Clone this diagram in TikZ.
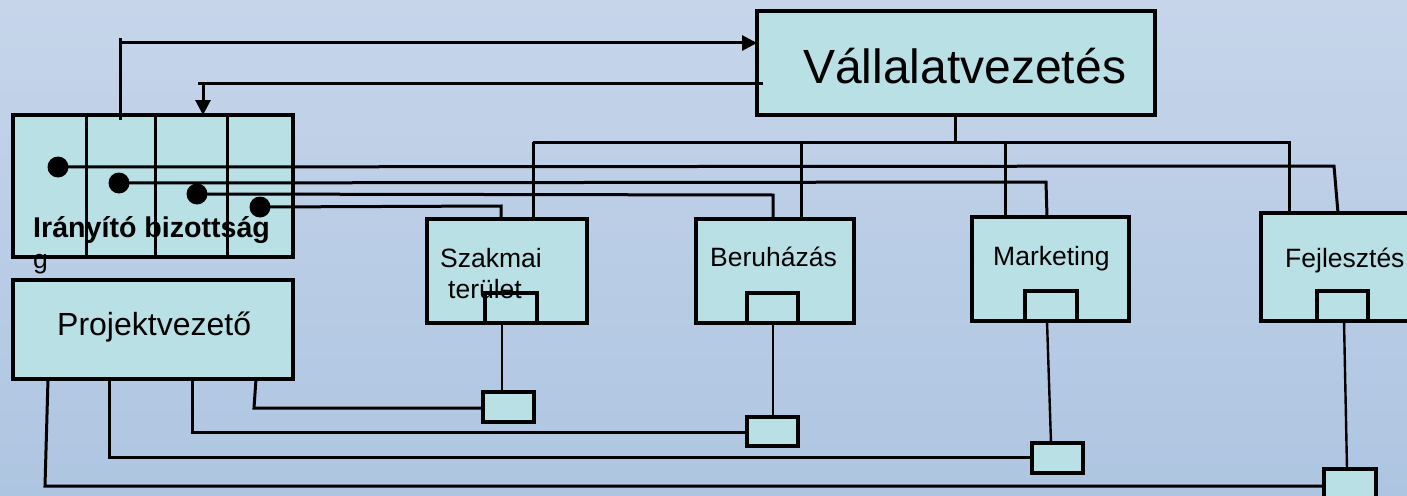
\documentclass[tikz,border=0pt]{standalone}
\usepackage{fontspec}
\setmainfont{Liberation Sans}
\usetikzlibrary{arrows.meta}
\definecolor{bgtop}{RGB}{198,213,234}
\definecolor{bgbot}{RGB}{174,197,225}
\definecolor{boxfill}{RGB}{185,224,228}
\begin{document}
\begin{tikzpicture}[x=1pt,y=-1pt,
  box/.style={draw=black,line width=3.2pt,fill=boxfill,inner sep=0pt,outer sep=0pt,anchor=north west},
  conn/.style={line width=3pt},
  thinconn/.style={line width=2.4pt},
  arr/.style={-{Triangle[length=15pt,width=15pt]}},
  lbl/.style={inner sep=0pt,anchor=base west,font=\fontsize{26.5}{30}\selectfont},
  dot/.style={circle,fill=black,inner sep=0pt,minimum size=21pt}]
\shade[top color=bgtop,bottom color=bgbot] (0,0) rectangle (1407,495);
\useasboundingbox (0,0) rectangle (1407,495);
% boxes
\node[box,minimum width=398pt,minimum height=104pt] (vv) at (757,11) {};
\node[box,minimum width=280pt,minimum height=142pt] (ib) at (13,115) {};
\node[box,minimum width=280pt,minimum height=99pt] (pv) at (13,280) {};
\node[box,minimum width=160pt,minimum height=104pt] (sz) at (427,219) {};
\node[box,minimum width=158pt,minimum height=104pt] (be) at (696,219) {};
\node[box,minimum width=157pt,minimum height=104pt] (mk) at (972,217) {};
\node[box,minimum width=158pt,minimum height=108pt] (fj) at (1261,213) {};
\node[box,minimum width=52pt,minimum height=30pt] (szi) at (485,293) {};
\node[box,minimum width=51pt,minimum height=30pt] (bei) at (747,293) {};
\node[box,minimum width=52pt,minimum height=30pt] (mki) at (1025,291) {};
\node[box,minimum width=51pt,minimum height=30pt] (fji) at (1317,291) {};
\node[box,minimum width=51pt,minimum height=30pt] (s2) at (483,392) {};
\node[box,minimum width=51pt,minimum height=29pt] (b2) at (747,417) {};
\node[box,minimum width=51pt,minimum height=30pt] (m2) at (1032,443) {};
\node[box,minimum width=52pt,minimum height=30pt] (f2) at (1324,469) {};
% committee dividers
\foreach \xx in {86,155,227}{\draw[line width=3pt] (ib.north -| \xx,0) -- (ib.south -| \xx,0);}
% arrows between committee and management
\draw[conn] (120,120) -- (120,38);
\draw[conn,arr] (120,43) -- (vv.west |- 0,43);
\draw[conn] (763,83) -- (198,83);
\draw[conn,arr] (203,83) -- (ib.north -| 203,0);
% distribution from management
\draw[conn] (vv.south -| 955,0) -- (955,142);
\draw[conn] (533,142) -- (1289,142) -- (fj.north -| 1289,0);
\draw[conn] (533,142) -- (sz.north -| 533,0);
\draw[conn] (801,142) -- (be.north -| 801,0);
\draw[conn] (1005,144) -- (mk.north -| 1005,0);
% dots and lines from committee
\node[dot] (d1) at (58,167) {};
\node[dot] (d2) at (119,183) {};
\node[dot] (d3) at (197,194) {};
\node[dot] (d4) at (260,207) {};
\draw[conn] (d1.center) -- (1334,166) -- (fj.north -| 1338,0);
\draw[conn] (d2.center) -- (1046,182) -- (mk.north -| 1047,0);
\draw[conn] (d3.center) -- (773,195) -- (be.north -| 773,0);
\draw[conn] (d4.center) -- (501,206) -- (sz.north -| 501,0);
% inner boxes to bottom boxes
\draw[thinconn] (szi.south -| 502,0) -- (s2.north -| 502,0);
\draw[thinconn] (bei.south -| 773,0) -- (b2.north -| 773,0);
\draw[thinconn] (mki.south -| 1047,0) -- (m2.north -| 1051,0);
\draw[thinconn] (fji.south -| 1344,0) -- (f2.north -| 1347,0);
% project manager lines
\draw[conn] (pv.south -| 48,0) -- (45,486) -- (f2.west |- 0,486);
\draw[conn] (pv.south -| 109,0) -- (109,457) -- (m2.west |- 0,457);
\draw[conn] (pv.south -| 192,0) -- (192,432) -- (b2.west |- 0,432);
\draw[conn] (pv.south -| 256,0) -- (254,408) -- (s2.west |- 0,408);
% texts
\node[inner sep=0pt,anchor=base west,font=\fontsize{48}{52}\selectfont] (vvt) at (803,83) {Vállalatvezetés};
\node[inner sep=0pt,anchor=base west,font=\bfseries\fontsize{28.6}{32}\selectfont] (ibt) at (33,237) {Irányító bizottság};
\node[lbl] (gt) at (33,268) {g};
\node[inner sep=0pt,anchor=base west,font=\fontsize{32}{35}\selectfont] (pvt) at (57,335) {Projektvezető};
\node[lbl] (szt1) at (440,267) {Szakmai};
\node[lbl] (szt2) at (448,298) {terület};
\node[lbl] (bet) at (710,266) {Beruházás};
\node[lbl] (mkt) at (993,265) {Marketing};
\node[lbl] (fjt) at (1285,267) {Fejlesztés};
\end{tikzpicture}
\end{document}
